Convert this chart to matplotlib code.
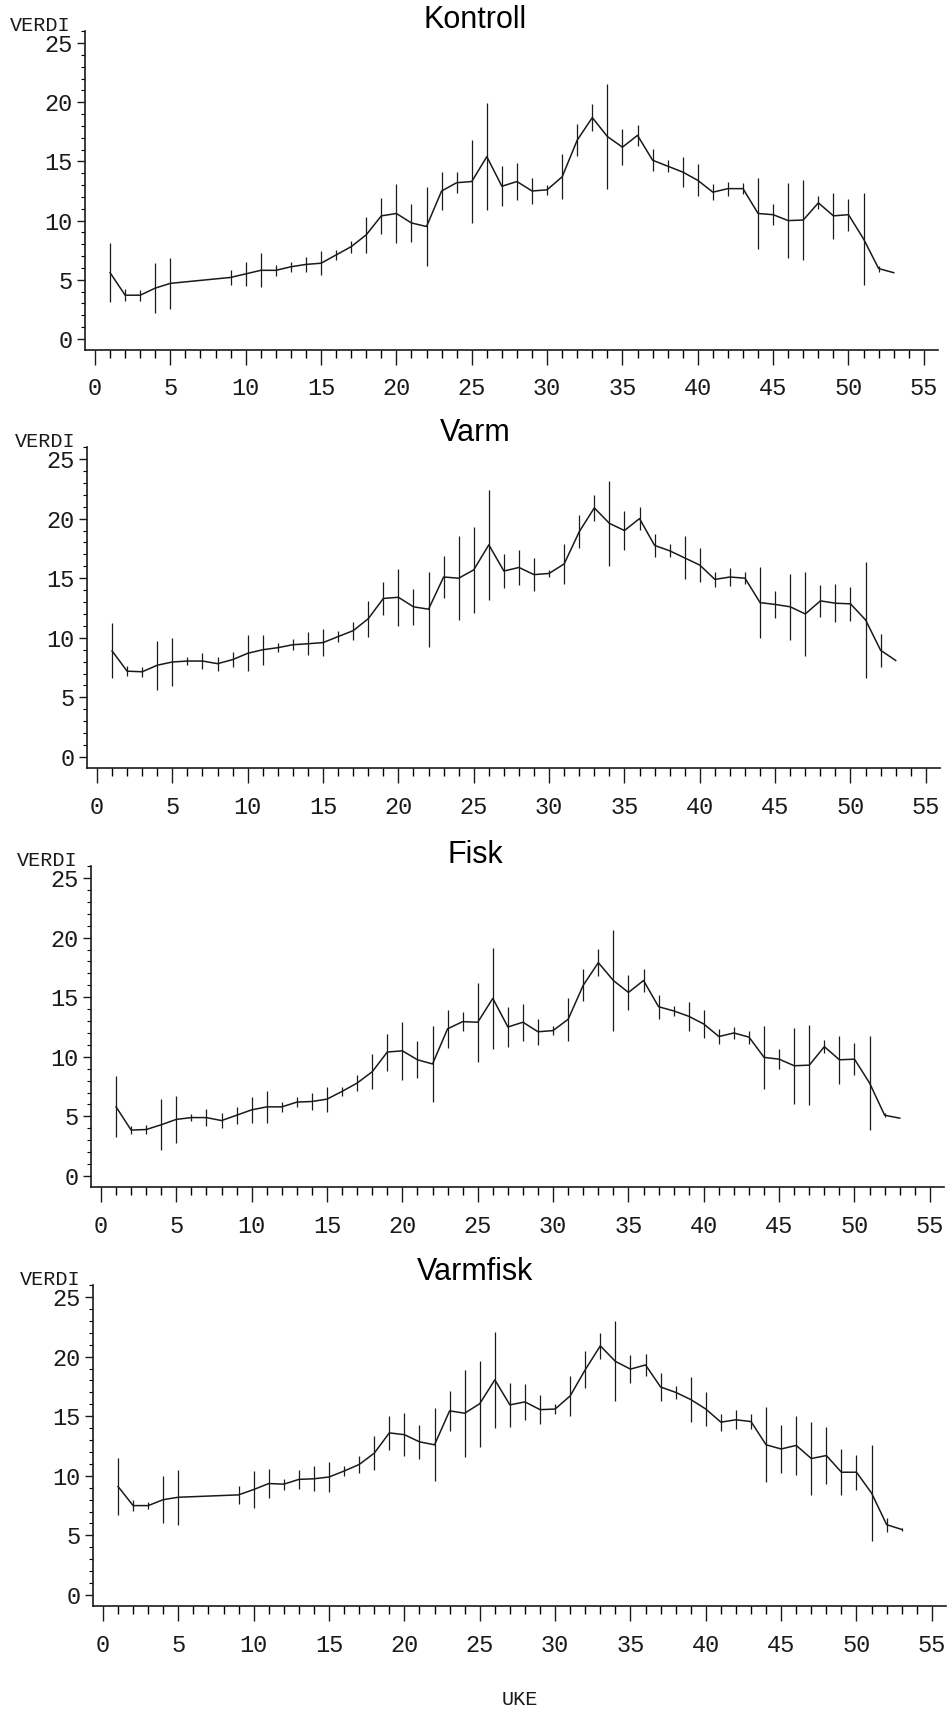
import matplotlib
matplotlib.use("Agg")
import matplotlib.pyplot as plt
from matplotlib.ticker import MultipleLocator
import numpy as np

FIG_W, FIG_H = 950, 1710

titles = ["Kontroll", "Varm", "Fisk", "Varmfisk"]

weeks_a = [1, 2, 3, 4, 5] + list(range(9, 54))
weeks_b = list(range(1, 54))

kontroll = [5.6, 3.7, 3.7, 4.3, 4.7, 5.2, 5.5, 5.8, 5.8, 6.1, 6.3, 6.4, 7.1, 7.8, 8.8,
            10.4, 10.6, 9.8, 9.5, 12.5, 13.2, 13.3, 15.4, 12.9, 13.3, 12.5, 12.6, 13.7,
            16.8, 18.7, 17.1, 16.2, 17.2, 15.1, 14.6, 14.1, 13.4, 12.4, 12.7, 12.7, 10.6,
            10.5, 10.0, 10.05, 11.5, 10.4, 10.5, 8.45, 5.95, 5.6]
kontroll_err = [2.5, 0.5, 0.45, 2.1, 2.15, 0.65, 1.0, 1.45, 0.45, 0.4, 0.6, 1.0, 0.4, 0.5,
                1.5, 1.5, 2.5, 1.6, 3.3, 1.6, 0.9, 3.5, 4.5, 1.7, 1.6, 1.1, 0.4, 1.9, 1.35,
                1.15, 4.4, 1.5, 0.9, 0.95, 0.5, 1.3, 1.35, 0.65, 0.6, 0.45, 3.0, 0.9, 3.2,
                3.35, 0.55, 1.95, 1.35, 3.9, 0.25, 0.0]

varm = [8.9, 7.2, 7.15, 7.7, 7.97, 8.05, 8.05, 7.83, 8.17, 8.7, 9.0, 9.17, 9.42, 9.5, 9.6,
        10.1, 10.6, 11.6, 13.3, 13.4, 12.6, 12.4, 15.1, 15.0, 15.7, 17.8, 15.6, 15.9, 15.3,
        15.4, 16.2, 18.9, 20.9, 19.6, 19.0, 20.0, 17.75, 17.3, 16.7, 16.1, 14.9, 15.1, 15.0,
        12.95, 12.8, 12.6, 12.0, 13.1, 12.9, 12.85, 11.5, 8.95, 8.1]
varm_err = [2.3, 0.4, 0.4, 2.05, 2.0, 0.3, 0.7, 0.6, 0.6, 1.5, 1.25, 0.4, 0.45, 0.95, 1.1,
            0.45, 0.75, 1.5, 1.35, 2.4, 1.5, 3.15, 1.8, 3.5, 3.6, 4.6, 1.45, 1.5, 1.4, 0.3,
            1.65, 1.4, 1.1, 3.55, 1.6, 0.95, 1.0, 0.55, 1.8, 1.4, 0.6, 0.75, 0.5, 3.0, 1.1,
            2.75, 3.5, 1.35, 1.6, 1.4, 4.85, 1.4, 0.0]

fisk = [5.8, 3.85, 3.9, 4.3, 4.75, 4.9, 4.9, 4.65, 5.1, 5.55, 5.8, 5.8, 6.2, 6.25, 6.45,
        7.1, 7.8, 8.75, 10.4, 10.5, 9.75, 9.4, 12.35, 12.95, 12.9, 14.9, 12.5, 12.9, 12.1,
        12.2, 13.15, 16.0, 17.9, 16.4, 15.4, 16.4, 14.2, 13.85, 13.4, 12.75, 11.7, 12.0,
        11.65, 9.95, 9.8, 9.25, 9.3, 10.85, 9.75, 9.8, 7.8, 5.1, 4.85]
fisk_err = [2.55, 0.35, 0.4, 2.15, 1.95, 0.3, 0.7, 0.65, 0.7, 1.1, 1.35, 0.45, 0.45, 0.7,
            1.05, 0.4, 0.7, 1.45, 1.55, 2.45, 1.55, 3.2, 1.6, 0.8, 3.3, 4.25, 1.65, 1.55,
            1.1, 0.4, 1.8, 1.35, 1.15, 4.25, 1.5, 0.95, 1.0, 0.45, 1.2, 1.2, 0.6, 0.5, 0.55,
            2.65, 0.85, 3.2, 3.35, 0.55, 2.0, 1.35, 3.95, 0.15, 0.0]

varmfisk = [9.1, 7.5, 7.5, 8.0, 8.2, 8.4, 8.85, 9.35, 9.3, 9.7, 9.75, 9.9, 10.4, 10.95,
            11.9, 13.6, 13.45, 12.85, 12.6, 15.45, 15.25, 16.05, 18.05, 15.95, 16.2, 15.55,
            15.6, 16.7, 18.9, 20.9, 19.6, 18.95, 19.3, 17.45, 17.0, 16.4, 15.6, 14.5, 14.7,
            14.55, 12.6, 12.25, 12.55, 11.45, 11.7, 10.3, 10.3, 8.55, 5.9, 5.5]
varmfisk_err = [2.4, 0.45, 0.3, 2.0, 2.3, 0.75, 1.55, 1.25, 0.45, 0.8, 1.05, 1.25, 0.45,
                0.7, 1.45, 1.4, 1.8, 1.45, 3.05, 1.65, 3.65, 3.6, 4.0, 1.85, 1.5, 1.2, 0.45,
                1.7, 1.55, 1.1, 3.35, 1.15, 0.9, 1.15, 0.55, 1.85, 1.45, 0.7, 0.8, 0.65,
                3.15, 2.0, 2.5, 3.05, 2.4, 1.95, 1.45, 4.05, 0.6, 0.15]

series = [(weeks_a, kontroll, kontroll_err),
          (weeks_b, varm, varm_err),
          (weeks_b, fisk, fisk_err),
          (weeks_a, varmfisk, varmfisk_err)]

# pixel layout of each panel: x of week 0, y of value 0, y of value 25
x0_px = [95, 97, 101, 103]
y0_px = [339, 757, 1176, 1595]
y25_px = [43, 459, 878, 1297]
title_y = [20, 433, 855, 1272]
verdi_x = [10, 15, 17, 20]
px_per_week = 15.07

XLIM = (-0.66, 55.95)
YLIM = (-0.9, 26.0)

MONO = "Liberation Mono"
INK = "#1a1a1a"

fig = plt.figure(figsize=(FIG_W / 100, FIG_H / 100), dpi=100)

for i, (wk, val, err) in enumerate(series):
    u = (y0_px[i] - y25_px[i]) / 25.0
    left = x0_px[i] + XLIM[0] * px_per_week
    right = x0_px[i] + XLIM[1] * px_per_week
    bottom = y0_px[i] - YLIM[0] * u
    top = y0_px[i] - YLIM[1] * u
    ax = fig.add_axes([left / FIG_W, 1 - bottom / FIG_H,
                       (right - left) / FIG_W, (bottom - top) / FIG_H])

    ax.errorbar(wk, val, yerr=err, color=INK, lw=1.1, elinewidth=0.9, capsize=0)

    ax.set_xlim(*XLIM)
    ax.set_ylim(*YLIM)
    ax.spines["top"].set_visible(False)
    ax.spines["right"].set_visible(False)
    for s in ("left", "bottom"):
        ax.spines[s].set_linewidth(1.2)
        ax.spines[s].set_color(INK)

    ax.xaxis.set_major_locator(MultipleLocator(5))
    ax.xaxis.set_minor_locator(MultipleLocator(1))
    ax.yaxis.set_minor_locator(MultipleLocator(1))
    ax.set_yticks(np.arange(0, 26, 5))
    ax.tick_params(axis="x", which="major", direction="out", length=11, width=1.0,
                   pad=9, labelsize=17, colors=INK)
    ax.tick_params(axis="x", which="minor", direction="out", length=6, width=1.0)
    ax.tick_params(axis="y", which="major", direction="out", length=6, width=1.0,
                   pad=3, labelsize=17, colors=INK)
    ax.tick_params(axis="y", which="minor", direction="out", length=3, width=0.8)
    for lab in ax.get_xticklabels() + ax.get_yticklabels():
        lab.set_fontfamily(MONO)

    fig.text(verdi_x[i] / FIG_W, 1 - (top - 6) / FIG_H, "VERDI", fontsize=14.5,
             family=MONO, color=INK, ha="left", va="center")
    fig.text(0.5, 1 - title_y[i] / FIG_H, titles[i], fontsize=22,
             family="Liberation Sans", color="black", ha="center", va="center")

fig.text(520 / FIG_W, 1 - 1699 / FIG_H, "UKE", fontsize=14.5, family=MONO,
         color=INK, ha="center", va="center")

fig.savefig("out.png", dpi=100, facecolor="white")
